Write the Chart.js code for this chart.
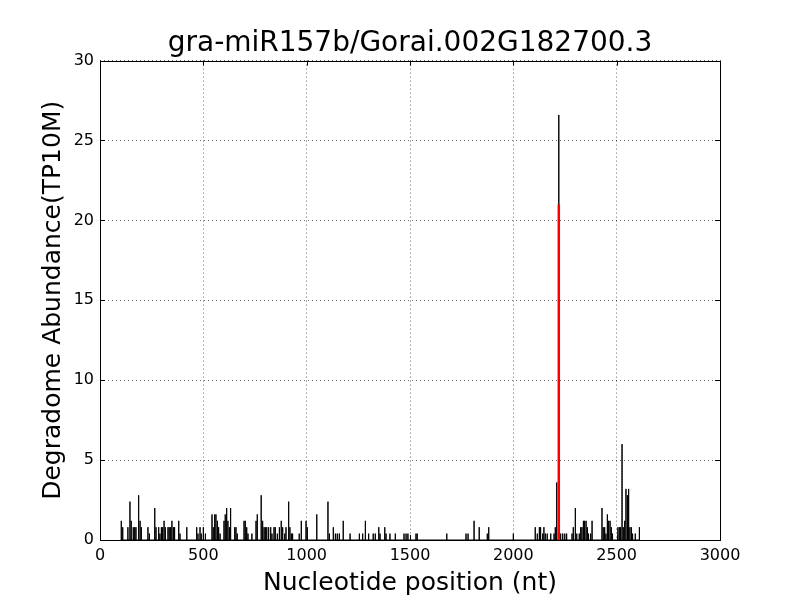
<!DOCTYPE html>
<html>
<head>
<meta charset="utf-8">
<script src="https://cdn.jsdelivr.net/npm/chart.js@4/dist/chart.umd.min.js"></script>
<style>
  html, body { margin: 0; padding: 0; background: #fff; }
  #wrap { width: 800px; height: 600px; }
</style>
</head>
<body>
<div id="wrap"><canvas id="myChart" width="800" height="600"></canvas></div>
<script>
// degradome reads: nucleotide position (nt) and abundance (TP10M)
const positions = [
  103, 110, 135, 145, 151, 161, 168, 174, 187, 194, 200, 232, 239, 265, 271, 284, 290, 297, 303, 310,
  316, 329, 335, 342, 348, 355, 361, 381, 387, 420, 468, 474, 484, 490, 500, 510, 542, 548, 555, 561,
  568, 574, 581, 600, 606, 613, 619, 626, 632, 652, 658, 664, 697, 703, 710, 716, 735, 755, 761, 780,
  787, 794, 800, 807, 816, 826, 832, 842, 848, 858, 868, 877, 884, 894, 900, 913, 919, 926, 932, 964,
  974, 997, 1003, 1049, 1103, 1110, 1129, 1139, 1148, 1158, 1177, 1210, 1255, 1271, 1284, 1300, 1322, 1332, 1349, 1355,
  1378, 1384, 1403, 1429, 1471, 1481, 1490, 1529, 1535, 1678, 1771, 1781, 1810, 1835, 1874, 1881, 2000, 2106, 2116, 2126,
  2132, 2142, 2148, 2155, 2164, 2181, 2197, 2203, 2210, 2220, 2229, 2239, 2249, 2258, 2284, 2290, 2300, 2307, 2319, 2326,
  2332, 2339, 2345, 2352, 2358, 2364, 2374, 2381, 2429, 2435, 2442, 2448, 2455, 2461, 2468, 2474, 2480, 2506, 2513, 2519,
  2526, 2532, 2539, 2545, 2552, 2558, 2564, 2571, 2577, 2590, 2610
];
const abundance = [
  1.2, 0.8, 0.8, 2.4, 1.2, 0.8, 0.8, 0.8, 2.8, 1.2, 0.8, 0.8, 0.4, 2.0, 0.8, 0.8, 0.4, 0.8, 0.8, 1.2,
  0.8, 0.8, 0.8, 0.8, 1.2, 0.8, 0.8, 1.2, 0.4, 0.8, 0.8, 0.4, 0.8, 0.4, 0.8, 0.4, 1.6, 0.8, 1.6, 1.6,
  1.2, 0.8, 0.4, 1.2, 1.6, 2.0, 1.2, 0.8, 2.0, 0.8, 0.8, 0.4, 1.2, 1.2, 0.8, 0.4, 0.4, 1.2, 1.6, 2.8,
  1.2, 0.8, 0.8, 0.8, 0.8, 0.8, 0.4, 0.8, 0.8, 0.4, 0.8, 1.2, 0.8, 0.4, 0.8, 2.4, 0.8, 0.4, 0.4, 0.4,
  1.2, 1.2, 0.8, 1.6, 2.4, 0.4, 0.8, 0.4, 0.4, 0.4, 1.2, 0.4, 0.4, 0.4, 1.2, 0.4, 0.4, 0.4, 0.8, 0.4,
  0.8, 0.4, 0.4, 0.4, 0.4, 0.4, 0.4, 0.4, 0.4, 0.4, 0.4, 0.4, 1.2, 0.8, 0.4, 0.8, 0.4, 0.8, 0.4, 0.8,
  0.8, 0.4, 0.8, 0.4, 0.4, 0.4, 0.4, 0.8, 3.6, 26.6, 0.4, 0.4, 0.4, 0.4, 0.4, 0.8, 2.0, 0.4, 0.4, 0.8,
  0.8, 1.2, 1.2, 1.2, 0.8, 0.4, 0.4, 1.2, 2.0, 0.8, 0.8, 0.4, 1.6, 1.2, 1.2, 0.8, 0.4, 0.8, 0.8, 0.8,
  6.0, 0.8, 1.2, 3.2, 2.8, 3.2, 0.8, 0.8, 0.4, 0.4, 0.8
];
// predicted miRNA cleavage site
const sitePos = [2220];
const siteAbund = [21.0];

const xTicks = [0, 500, 1000, 1500, 2000, 2500, 3000];
const yTicks = [0, 5, 10, 15, 20, 25, 30];

const FONT = "'DejaVu Sans', sans-serif";

function stems(xs, ys) {
  const out = [];
  xs.forEach((p, i) => {
    out.push({x: p, y: 0}, {x: p, y: ys[i]}, {x: p, y: 0});
  });
  return out;
}

// box round the plot and inward ticks on all four sides (mpl classic look)
const frame = {
  id: 'frame',
  afterDraw(chart) {
    const {ctx, chartArea: a, scales: {x, y}} = chart;
    ctx.save();
    ctx.strokeStyle = '#000';
    ctx.lineWidth = 1;
    ctx.beginPath();
    xTicks.forEach(t => {
      const px = Math.round(x.getPixelForValue(t)) + 0.5;
      ctx.moveTo(px, a.bottom); ctx.lineTo(px, a.bottom - 5);
      ctx.moveTo(px, a.top); ctx.lineTo(px, a.top + 5);
    });
    yTicks.forEach(t => {
      const py = Math.round(y.getPixelForValue(t)) + 0.5;
      ctx.moveTo(a.left, py); ctx.lineTo(a.left + 5, py);
      ctx.moveTo(a.right, py); ctx.lineTo(a.right - 5, py);
    });
    ctx.stroke();
    ctx.strokeRect(Math.round(a.left) + 0.5, Math.round(a.top) + 0.5,
                   Math.round(a.right - a.left), Math.round(a.bottom - a.top));
    ctx.restore();
  }
};

new Chart(document.getElementById('myChart'), {
  type: 'scatter',
  data: {
    datasets: [
      {
        data: stems(sitePos, siteAbund),
        showLine: true,
        borderColor: '#ff0000',
        borderWidth: 2.5,
        pointRadius: 0,
        order: 0
      },
      {
        data: stems(positions, abundance),
        showLine: true,
        borderColor: '#000000',
        borderWidth: 1,
        pointRadius: 0,
        order: 1
      }
    ]
  },
  options: {
    responsive: false,
    animation: false,
    events: [],
    layout: {padding: {left: 38, right: 80, top: 0, bottom: 0}},
    plugins: {
      legend: {display: false},
      tooltip: {enabled: false},
      title: {
        display: true,
        fullSize: false,
        text: 'gra-miR157b/Gorai.002G182700.3',
        color: '#000',
        font: {family: FONT, size: 28, weight: 'normal'},
        padding: {top: 27, bottom: 0}
      }
    },
    scales: {
      x: {
        type: 'linear',
        min: 0, max: 3000,
        afterBuildTicks: s => { s.ticks = xTicks.map(v => ({value: v})); },
        ticks: {color: '#000', font: {family: FONT, size: 16}, padding: 6, maxRotation: 0,
                callback: v => String(v)},
        grid: {color: '#000', lineWidth: 0.6, drawTicks: false},
        border: {display: false, dash: [1, 3]},
        title: {display: true, text: 'Nucleotide position (nt)', color: '#000',
                font: {family: FONT, size: 25}, padding: {top: 4, bottom: 2}},
        afterFit: s => { s.height = 60; }
      },
      y: {
        min: 0, max: 30,
        afterBuildTicks: s => { s.ticks = yTicks.map(v => ({value: v})); },
        ticks: {color: '#000', font: {family: FONT, size: 16}, padding: 6},
        grid: {color: '#000', lineWidth: 0.6, drawTicks: false},
        border: {display: false, dash: [1, 3]},
        title: {display: true, text: 'Degradome Abundance(TP10M)', color: '#000',
                font: {family: FONT, size: 25}, padding: {top: 0, bottom: 4}},
        afterFit: s => { s.width = 62; }
      }
    }
  },
  plugins: [frame]
});
</script>
</body>
</html>
